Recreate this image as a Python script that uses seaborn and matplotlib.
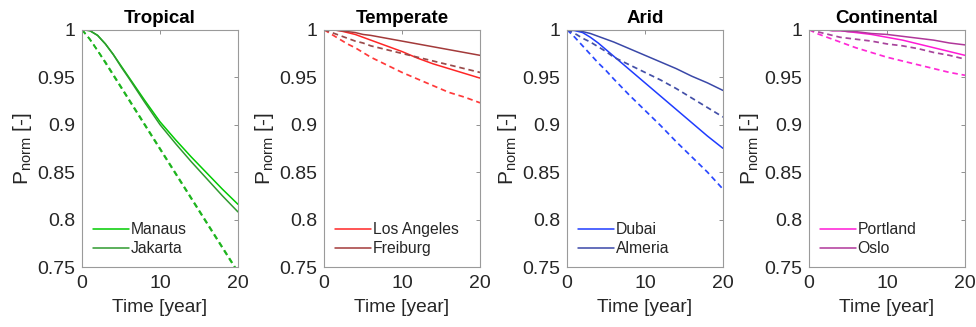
import numpy as np
import pandas as pd
import matplotlib
matplotlib.use("Agg")
import matplotlib.pyplot as plt
import seaborn as sns
from matplotlib.ticker import FixedLocator, FuncFormatter

# ---------------- data ----------------
years = [0, 1, 2, 3, 4, 5, 6, 8, 10, 12, 14, 16, 18, 20]

titles = ["Tropical", "Temperate", "Arid", "Continental"]
cities = [["Manaus", "Jakarta"], ["Los Angeles", "Freiburg"],
          ["Dubai", "Almeria"], ["Portland", "Oslo"]]

# solid lines
manaus_solid = [1.000, 0.999, 0.994, 0.985, 0.974, 0.962, 0.950, 0.926, 0.903, 0.884, 0.866, 0.849, 0.832, 0.816]
jakarta_solid = [1.000, 0.999, 0.994, 0.985, 0.974, 0.961, 0.949, 0.924, 0.900, 0.880, 0.861, 0.843, 0.825, 0.808]
la_solid = [1.000, 1.000, 0.999, 0.997, 0.995, 0.992, 0.989, 0.983, 0.977, 0.970, 0.964, 0.959, 0.954, 0.949]
freiburg_solid = [1.000, 1.000, 0.999, 0.998, 0.997, 0.995, 0.994, 0.991, 0.988, 0.985, 0.982, 0.979, 0.976, 0.973]
dubai_solid = [1.000, 0.999, 0.997, 0.992, 0.986, 0.979, 0.972, 0.958, 0.944, 0.930, 0.916, 0.902, 0.888, 0.875]
almeria_solid = [1.000, 1.000, 0.998, 0.996, 0.993, 0.990, 0.987, 0.980, 0.973, 0.966, 0.959, 0.951, 0.944, 0.936]
portland_solid = [1.000, 1.000, 1.000, 0.999, 0.999, 0.998, 0.997, 0.995, 0.992, 0.989, 0.985, 0.981, 0.977, 0.973]
oslo_solid = [1.000, 1.000, 1.000, 0.999, 0.999, 0.998, 0.998, 0.996, 0.995, 0.993, 0.991, 0.989, 0.986, 0.984]

# dashed lines
manaus_dashed = [1.000, 0.990, 0.978, 0.966, 0.953, 0.940, 0.927, 0.901, 0.875, 0.849, 0.823, 0.797, 0.771, 0.745]
jakarta_dashed = [1.000, 0.990, 0.978, 0.965, 0.952, 0.939, 0.926, 0.900, 0.874, 0.848, 0.822, 0.796, 0.770, 0.744]
la_dashed = [1.000, 0.995, 0.990, 0.985, 0.981, 0.976, 0.971, 0.963, 0.955, 0.948, 0.941, 0.934, 0.929, 0.923]
freiburg_dashed = [1.000, 0.997, 0.994, 0.991, 0.988, 0.986, 0.983, 0.979, 0.975, 0.971, 0.967, 0.963, 0.959, 0.955]
dubai_dashed = [1.000, 0.992, 0.983, 0.974, 0.965, 0.957, 0.948, 0.931, 0.915, 0.899, 0.882, 0.866, 0.850, 0.832]
almeria_dashed = [1.000, 0.996, 0.991, 0.987, 0.982, 0.977, 0.971, 0.963, 0.955, 0.947, 0.938, 0.928, 0.918, 0.908]
portland_dashed = [1.000, 0.996, 0.993, 0.990, 0.987, 0.984, 0.981, 0.976, 0.971, 0.967, 0.963, 0.959, 0.955, 0.952]
oslo_dashed = [1.000, 0.998, 0.996, 0.994, 0.992, 0.991, 0.990, 0.988, 0.985, 0.983, 0.980, 0.976, 0.973, 0.969]

x_ticks = [0, 10, 20]
y_ticks = [0.75, 0.8, 0.85, 0.9, 0.95, 1.0]

solid = [[manaus_solid, jakarta_solid], [la_solid, freiburg_solid],
         [dubai_solid, almeria_solid], [portland_solid, oslo_solid]]
dashed = [[manaus_dashed, jakarta_dashed], [la_dashed, freiburg_dashed],
          [dubai_dashed, almeria_dashed], [portland_dashed, oslo_dashed]]

colors = [["#00cc00", "#2f9a2f"], ["#ff2626", "#a33a3a"],
          ["#1f3cff", "#3a48a8"], ["#ff1ad6", "#b0379a"]]
dashed_colors = [["#1fb41f", "#1fb41f"], ["#ff3a3a", "#9a4a4a"],
                 ["#2a48ff", "#4450a8"], ["#ff2ad6", "#a8449c"]]

# ---------------- style ----------------
sns.set_theme(style="white")
plt.rcParams["font.family"] = ["Liberation Sans", "DejaVu Sans"]
plt.rcParams["mathtext.fontset"] = "custom"
plt.rcParams["mathtext.rm"] = "Liberation Sans"
plt.rcParams["mathtext.it"] = "Liberation Sans:italic"
plt.rcParams["mathtext.bf"] = "Liberation Sans:bold"

fig = plt.figure(figsize=(9.76, 3.27), dpi=100)
lefts = [82, 324, 567, 809]
W, H = 976.0, 327.0
bottom_px, top_px = 267.0, 29.7

for i in range(4):
    ax = fig.add_axes([lefts[i] / W, (H - bottom_px) / H, 156 / W, (bottom_px - top_px) / H])
    for j in range(2):
        df_s = pd.DataFrame({"t": years, "p": solid[i][j]})
        df_d = pd.DataFrame({"t": years, "p": dashed[i][j]})
        sns.lineplot(data=df_d, x="t", y="p", ax=ax, color=dashed_colors[i][j],
                     linewidth=1.25, linestyle=(0, (3.2, 2.2)), legend=False)
        sns.lineplot(data=df_s, x="t", y="p", ax=ax, color=colors[i][j],
                     linewidth=1.1, legend=False, label=cities[i][j])
    solid_lines = [ln for ln in ax.get_lines() if ln.get_label() in cities[i]]
    ax.set_xlim(0, 20)
    ax.set_ylim(0.75, 1.0)
    ax.xaxis.set_major_locator(FixedLocator(x_ticks))
    ax.yaxis.set_major_locator(FixedLocator(y_ticks))
    ax.yaxis.set_major_formatter(FuncFormatter(lambda v, p: "%g" % v))
    ax.tick_params(direction="in", length=3, width=0.6, color="#7f7f7f",
                   labelsize=14, labelcolor="#262626", top=True, right=True)
    ax.tick_params(axis="x", pad=6)
    ax.tick_params(axis="y", pad=5)
    for sp in ax.spines.values():
        sp.set_color("#9a9a9a")
        sp.set_linewidth(0.8)
    ax.set_title(titles[i], fontsize=13.5, fontweight="bold", pad=5, color="#000000")
    ax.set_xlabel("Time [year]", fontsize=13.8, color="#262626", labelpad=5)
    ax.set_ylabel(r"P$_{\mathrm{norm}}$ [-]", fontsize=15, color="#262626", labelpad=2)
    ax.legend(handles=solid_lines, labels=cities[i], loc="lower left", frameon=False,
              fontsize=11.3, handlelength=2.3, handletextpad=0.1, labelspacing=0.25,
              borderaxespad=0.3, borderpad=0.4)

fig.savefig("out.png", dpi=100)
